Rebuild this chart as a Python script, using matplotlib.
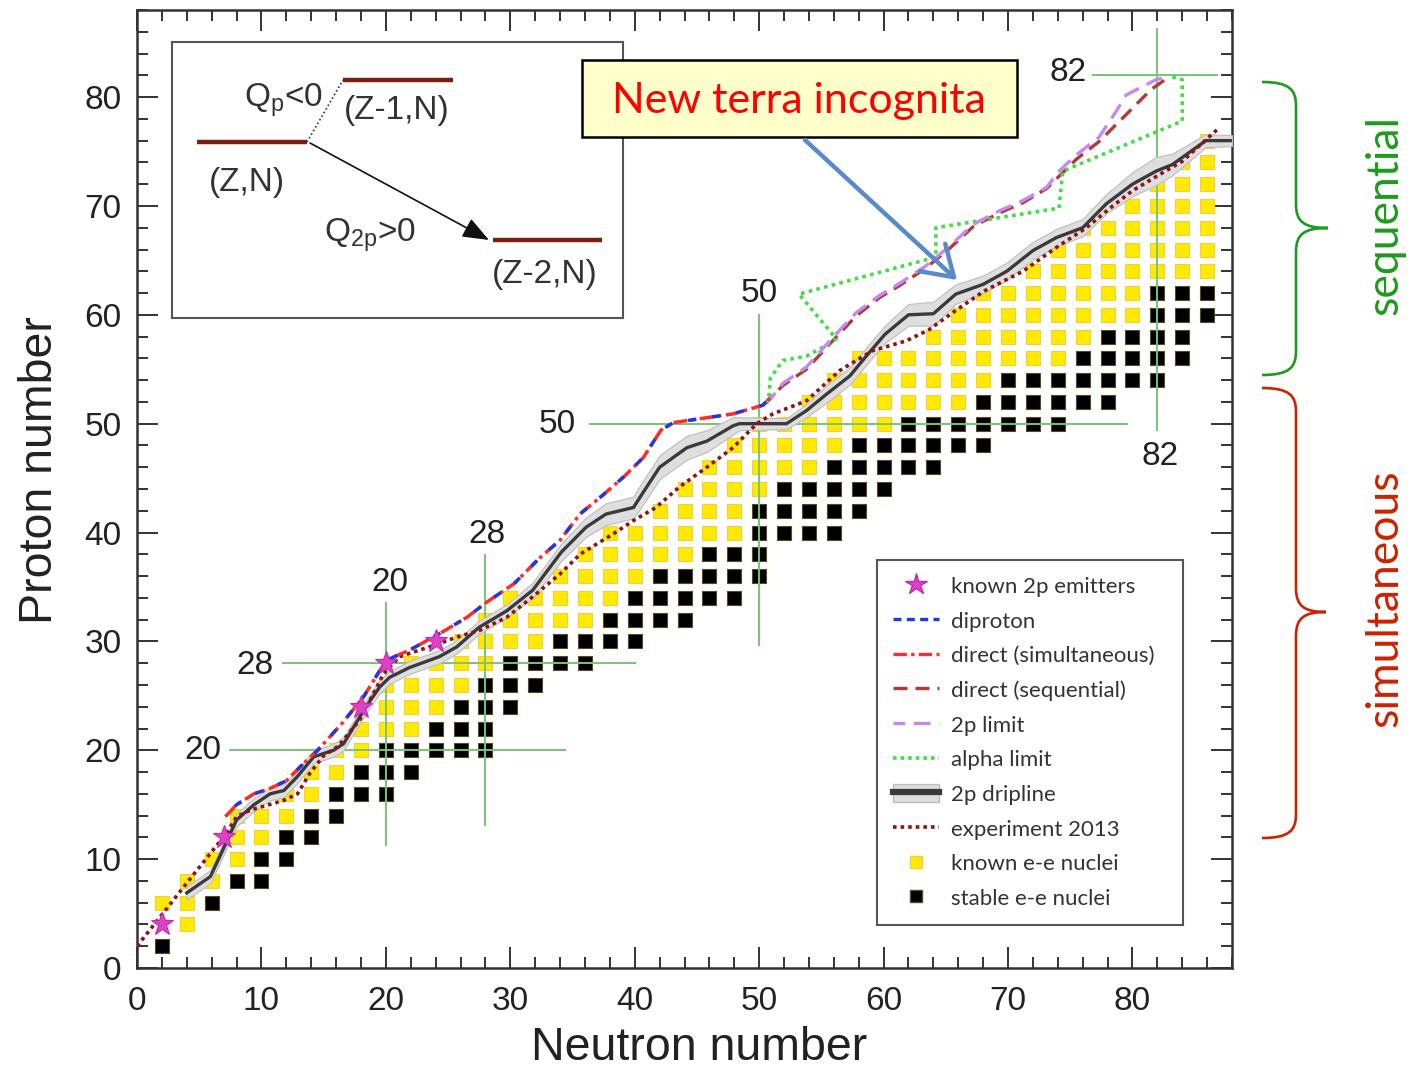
import numpy as np
import matplotlib
matplotlib.use("Agg")
import matplotlib.pyplot as plt
from matplotlib.lines import Line2D
from matplotlib.patches import Patch, Rectangle, FancyArrowPatch, PathPatch
from matplotlib.path import Path
from matplotlib.ticker import MultipleLocator

plt.rcParams['font.family'] = ['Liberation Sans', 'DejaVu Sans']
plt.rcParams['mathtext.fontset'] = 'custom'
plt.rcParams['mathtext.rm'] = 'Liberation Sans'
plt.rcParams['mathtext.it'] = 'Liberation Sans:italic'

# ---------------------------------------------------------------- data
# even-even nuclei, one row per even proton number Z
row_Z = [2, 4, 6, 8, 10, 12, 14, 16, 18, 20, 22, 24, 26, 28, 30, 32, 34, 36, 38,
         40, 42, 44, 46, 48, 50, 52, 54, 56, 58, 60, 62, 64, 66, 68, 70, 72, 74, 76]
known_N_from = [None, 4, 2, 4, 6, 8, 8, 12, 14, 16, 18, 20, 20, 22, 26, 28, 30, 34, 36,
                38, 42, 44, 46, 48, 50, 54, 56, 58, 64, 66, 68, 72, 74, 76, 80, 82, 84, 86]
known_N_to = [None, 4, 4, 6, 8, 10, 12, 14, 16, 18, 22, 24, 26, 28, 32, 36, 38, 40, 44,
              48, 48, 50, 54, 56, 60, 66, 68, 74, 76, 80, 80, 86, 86, 86, 86, 86, 86, 86]
stable_N_from = [2, None, 6, 8, 10, 12, 14, 16, 18, 20, 24, 26, 28, 30, 34, 38, 40, 42, 46,
                 50, 50, 52, 56, 58, 62, 68, 70, 76, 78, 82, 82, None, None, None, None, None, None, None]
stable_N_to = [2, None, 6, 10, 12, 14, 16, 20, 22, 28, 28, 30, 32, 36, 40, 44, 48, 50, 50,
               56, 58, 60, 64, 68, 74, 78, 82, 84, 84, 86, 86, None, None, None, None, None, None, None]

# known two-proton emitters
emit_N = [2, 7, 18, 20, 24]
emit_Z = [4, 12, 24, 28, 30]

# diproton / direct (simultaneous) model limit
sim_N = [7.1, 8.0, 9.4, 10.7, 12.0, 13.4, 14.6, 16.5, 18.2, 19.5, 20.1, 21.9, 24.3, 26.5,
         28.1, 30.3, 32.3, 34.0, 35.6, 37.5, 39.1, 40.7, 42.1, 43.1, 44.9, 47.9, 50.3, 51.1]
sim_Z = [13.9, 15.0, 16.0, 16.5, 17.2, 18.8, 20.1, 22.5, 24.9, 27.3, 28.3, 29.2, 30.7, 32.2,
         33.6, 35.3, 37.6, 39.3, 41.7, 43.5, 45.1, 46.9, 49.4, 50.1, 50.4, 50.9, 51.7, 52.6]

# direct (sequential)
seq_N = [50.3, 51.9, 53.8, 55.9, 57.8, 59.7, 61.3, 63.4, 65.3, 67.2, 69.2, 71.2, 73.1,
         75.5, 77.3, 79.5, 81.5, 83.0]
seq_Z = [51.7, 53.5, 55.0, 57.6, 59.9, 61.6, 62.7, 64.3, 66.1, 68.1, 69.3, 70.3, 71.6,
         74.3, 75.9, 78.4, 80.7, 81.9]

# 2p limit
lim_N = [50.8, 51.9, 53.8, 55.9, 57.8, 59.7, 61.3, 63.4, 65.3, 67.2, 69.2, 71.2, 73.1,
         74.1, 75.5, 77.3, 78.7, 79.5, 81.9, 83.0]
lim_Z = [52.1, 53.7, 55.2, 57.9, 60.2, 61.8, 62.9, 64.5, 66.3, 68.3, 69.5, 70.5, 71.7,
         73.2, 74.7, 76.3, 78.7, 80.2, 81.6, 81.9]

# alpha limit
alpha_N = [50.6, 50.8, 50.9, 51.9, 53.8, 55.4, 56.2, 53.2, 64.2, 64.2, 74.1, 74.4, 84.0, 84.0, 83.0]
alpha_Z = [51.8, 52.7, 54.2, 55.8, 56.2, 57.2, 57.8, 61.9, 65.3, 68.0, 69.8, 73.2, 77.8, 81.6, 81.9]

# 2p dripline with its uncertainty band
drip_N = [4, 5.9, 7.0, 8.0, 9.4, 10.7, 11.8, 12.9, 14.2, 15.8, 16.6, 18.4, 19.5, 20.3, 21.9,
          24.3, 25.7, 27.5, 29.7, 31.8, 34.1, 36.1, 37.7, 38.8, 39.9, 40.4, 42.0, 44.2, 45.8,
          47.9, 48.4, 52.2, 53.8, 55.4, 57.3, 58.6, 60.1, 62.0, 64.0, 65.8, 68.0, 69.9, 72.0,
          73.9, 76.0, 77.9, 80.0, 81.9, 83.2, 85.9, 88.0]
drip_Z = [6.9, 8.4, 11.1, 13.6, 15.0, 16.0, 16.3, 17.6, 19.4, 20.0, 20.6, 24.0, 25.8, 26.7, 27.6,
          28.6, 29.5, 31.3, 32.8, 34.7, 38.2, 40.5, 41.7, 42.0, 42.3, 43.2, 46.0, 47.8, 48.4,
          49.8, 50.0, 50.0, 51.2, 52.7, 54.4, 56.2, 58.2, 60.0, 60.1, 61.9, 62.8, 64.0, 65.9,
          67.1, 68.0, 70.2, 72.0, 73.2, 73.8, 76.0, 76.0]
drip_err = [0.6, 0.6, 0.6, 0.6, 0.6, 0.6, 0.6, 0.6, 0.6, 0.6, 0.6, 0.6, 0.6, 0.6, 0.6,
            0.6, 0.6, 0.6, 0.6, 0.7, 0.8, 0.9, 1.0, 1.0, 1.0, 1.1, 1.1, 1.1, 1.0,
            0.8, 0.6, 0.5, 0.6, 0.8, 0.8, 0.8, 0.8, 1.0, 1.1, 0.9, 0.8, 0.8, 0.8,
            0.8, 0.8, 0.9, 1.1, 1.3, 1.0, 0.6, 0.5]

# experimental limit (2013)
exp_N = [0, 2, 4, 7.2, 8.0, 9.1, 11.8, 12.9, 13.9, 15.0, 16.2, 17.9, 19.0, 19.8, 21.1, 22.7,
         24.3, 25.7, 27.5, 29.7, 31.8, 34.0, 35.6, 38.3, 39.9, 41.7, 43.6, 45.8, 47.9, 49.8,
         51.1, 53.8, 56.5, 59.1, 61.8, 63.6, 65.8, 68.1, 71.2, 73.9, 76.3, 78.2, 80.0, 82.2,
         84.0, 86.5, 87.0]
exp_Z = [2.0, 4.9, 7.8, 12.4, 13.9, 14.5, 15.4, 16.0, 17.9, 19.5, 20.4, 22.8, 25.2, 27.0, 28.6,
         29.2, 29.8, 30.4, 31.0, 32.2, 34.1, 36.2, 38.0, 39.9, 41.1, 42.3, 44.2, 46.0, 47.8,
         50.0, 50.9, 52.1, 54.9, 56.7, 57.6, 58.6, 60.4, 62.2, 64.0, 66.2, 68.0, 69.8, 71.4,
         72.9, 74.1, 76.7, 77.2]

# magic numbers: horizontal (Z) and vertical (N) guide lines
magic = [20, 28, 50, 82]
magic_hline_N = [(7.5, 34.4), (11.7, 40.0), (36.4, 79.6), (76.8, 86.8)]
magic_vline_Z = [(11.3, 33.5), (13.1, 37.9), (29.7, 60.0), (49.4, 86.3)]

x_ticks = [0, 10, 20, 30, 40, 50, 60, 70, 80]
y_ticks = [0, 10, 20, 30, 40, 50, 60, 70, 80]

legend_labels = ['known 2p emitters', 'diproton', 'direct (simultaneous)',
                 'direct (sequential)', '2p limit', 'alpha limit', '2p dripline',
                 'experiment 2013', 'known e-e nuclei', 'stable e-e nuclei']

# ---------------------------------------------------------------- figure
W, H = 1416, 1068
fig = plt.figure(figsize=(W / 100, H / 100), dpi=100)
ax = fig.add_axes([137 / W, 1 - 968 / H, 1095 / W, 958 / H])


def expand(rows, first, last):
    nn, zz = [], []
    for z, a, b in zip(rows, first, last):
        if a is None:
            continue
        for n in range(a, b + 1, 2):
            nn.append(n)
            zz.append(z)
    return nn, zz


kN, kZ = expand(row_Z, known_N_from, known_N_to)
sN, sZ = expand(row_Z, stable_N_from, stable_N_to)

YEL = '#FFEA00'
ax.scatter(kN, kZ, marker='s', s=10.2 ** 2, c=YEL, edgecolors='#F2CF40',
           linewidths=0.8, zorder=2)
ax.scatter(sN, sZ, marker='s', s=9.6 ** 2, c='black', edgecolors='#5A4A20',
           linewidths=0.8, zorder=2)

# magic-number guides
GRN = '#78C478'
for m, (n0, n1), (z0, z1) in zip(magic, magic_hline_N, magic_vline_Z):
    ax.plot([n0, n1], [m, m], color=GRN, lw=1.4, zorder=3)
    ax.plot([m, m], [z0, z1], color=GRN, lw=1.4, zorder=3)

lab_kw = dict(fontsize=24, color='#222222', ha='center', va='center', zorder=3)
# labels for horizontal lines (left of line)
ax.text(5.3, 20.0, '20', **lab_kw)
ax.text(9.5, 27.8, '28', **lab_kw)
ax.text(33.8, 49.9, '50', **lab_kw)
ax.text(74.8, 82.3, '82', **lab_kw)
# labels for vertical lines
ax.text(20.3, 35.4, '20', **lab_kw)
ax.text(28.1, 39.8, '28', **lab_kw)
ax.text(50.0, 62.0, '50', **lab_kw)
ax.text(82.2, 47.0, '82', **lab_kw)

# dripline band and line
dN = np.array(drip_N)
dZ = np.array(drip_Z)
dE = np.array(drip_err)
ax.fill_between(dN, dZ - dE, dZ + dE, color='#DEDEDE', edgecolor='#BDBDBD',
                lw=0.8, zorder=4)
ax.plot(dN, dZ, color='#3A3A3A', lw=2.4, zorder=5)

# experimental limit
ax.plot(exp_N, exp_Z, color='#8B1414', lw=2.6, ls=(0, (1.0, 1.1)), zorder=6)

# theoretical limits
ax.plot(seq_N, seq_Z, color='#B03A3A', lw=2.4, ls=(0, (4.2, 2.4)), zorder=6)
ax.plot(lim_N, lim_Z, color='#C38BF0', lw=2.4, ls=(2, (5.0, 2.6)), zorder=6.5)
ax.plot(alpha_N, alpha_Z, color='#44DD44', lw=2.6, ls=(0, (1.0, 1.2)), zorder=6)
ax.plot(sim_N, sim_Z, color='#FF2A2A', lw=2.5, ls=(0, (4.0, 1.3, 1.0, 1.3)), zorder=7)
ax.plot(sim_N, sim_Z, color='#2038E0', lw=2.5, ls=(3.0, (2.4, 4.6)), zorder=7.5)

# known 2p emitters
ax.plot(emit_N, emit_Z, ls='none', marker='*', ms=17, mfc='#E040C8', mec='#C02AAE',
        mew=0.8, zorder=9)

# axes cosmetics
ax.set_xlim(0, 88)
ax.set_ylim(0, 88)
ax.set_xticks(x_ticks)
ax.set_yticks(y_ticks)
ax.xaxis.set_minor_locator(MultipleLocator(2))
ax.yaxis.set_minor_locator(MultipleLocator(2))
ax.tick_params(which='both', direction='in', top=True, right=True, width=1.4,
               color='#333333', labelcolor='#222222', labelsize=24)
ax.tick_params(which='major', length=15)
ax.tick_params(which='minor', length=8)
ax.tick_params(axis='x', pad=13)
ax.tick_params(axis='y', pad=11)
for sp in ax.spines.values():
    sp.set_linewidth(1.8)
    sp.set_color('#333333')

ax.set_xlabel('Neutron number', fontsize=33.5, color='#222222')
ax.set_ylabel('Proton number', fontsize=33.5, color='#222222')
ax.xaxis.set_label_coords(0.513, -0.083)
ax.xaxis.label.set_va('center')
ax.yaxis.set_label_coords(-0.089, 0.52)
ax.yaxis.label.set_va('center')

# legend
handles = [
    Line2D([], [], ls='none', marker='*', ms=16, mfc='#E040C8', mec='#C02AAE'),
    Line2D([], [], color='#2038E0', lw=2.4, ls=(0, (2.4, 1.6))),
    Line2D([], [], color='#FF2A2A', lw=2.4, ls=(0, (4.0, 1.3, 1.0, 1.3))),
    Line2D([], [], color='#B03A3A', lw=2.4, ls=(0, (4.2, 2.4))),
    Line2D([], [], color='#C38BF0', lw=2.4, ls=(1.5, (5.0, 2.6))),
    Line2D([], [], color='#44DD44', lw=2.6, ls=(0, (1.0, 1.1))),
    (Patch(facecolor='#DEDEDE', edgecolor='#BDBDBD'), Line2D([], [], color='#3A3A3A', lw=4.5)),
    Line2D([], [], color='#8B1414', lw=2.6, ls=(0, (1.0, 1.1))),
    Line2D([], [], ls='none', marker='s', ms=9, mfc=YEL, mec='#F2CF40'),
    Line2D([], [], ls='none', marker='s', ms=8.5, mfc='black', mec='#5A4A20'),
]
leg = ax.legend(handles, legend_labels, loc='lower left',
                bbox_to_anchor=(0.676, 0.045, 0.279, 0.38), mode='expand',
                borderaxespad=0,
                prop={'family': 'Lato', 'size': 16}, handlelength=2.05,
                handleheight=0.9, handletextpad=0.55, labelspacing=0.62,
                borderpad=0.72, fancybox=False, framealpha=1, edgecolor='#555555')
leg.get_frame().set_linewidth(1.5)
leg.set_zorder(20)
for t in leg.get_texts():
    t.set_color('#333333')

# ---------------------------------------------------------------- overlay (pixel coordinates)
ov = fig.add_axes([0, 0, 1, 1], zorder=10)
ov.set_xlim(0, W)
ov.set_ylim(H, 0)
ov.axis('off')
ov.patch.set_alpha(0)

# level-scheme inset
ov.add_patch(Rectangle((172, 42), 451, 276, facecolor='white', edgecolor='#555555', lw=1.5))
LEV = '#7A1E0E'
ov.plot([197, 307], [142, 142], color=LEV, lw=3.2, solid_capstyle='butt')
ov.plot([343, 453], [80, 80], color=LEV, lw=3.2, solid_capstyle='butt')
ov.plot([493, 602], [240, 240], color=LEV, lw=3.2, solid_capstyle='butt')
ov.plot([307, 343], [142, 80], color='#333333', lw=1.2, ls=(0, (1, 1.5)))
ov.add_patch(FancyArrowPatch((310, 143), (489, 240), arrowstyle='-|>,head_length=0.9,head_width=0.35',
                             mutation_scale=18, color='#111111', lw=1.2, shrinkA=0, shrinkB=0))
ik = dict(fontsize=24, color='#333333', ha='center', va='center')
ov.text(283, 100, r'Q$_\mathregular{p}$<0', **ik)
ov.text(397, 110, '(Z-1,N)', **ik)
ov.text(247, 182, '(Z,N)', **ik)
ov.text(370, 235, r'Q$_\mathregular{2p}$>0', **ik)
ov.text(545, 275, '(Z-2,N)', **ik)

# callout
ov.add_patch(Rectangle((582, 60), 435, 77, facecolor='#FFFFCC', edgecolor='black', lw=1.8))
ov.text(799, 101, 'New terra incognita', fontsize=31, color='#FF0000', family='Lato',
        ha='center', va='center')
ov.add_patch(FancyArrowPatch((805, 140), (957, 280), arrowstyle='->,head_length=0.7,head_width=0.45',
                             mutation_scale=30, color='#5A8AC8', lw=3.2, shrinkA=0, shrinkB=0))


def brace(x_end, x_mid, x_tip, y0, ym, y1, color):
    r = 24
    verts = [(x_end, y0),
             (x_mid - 6, y0), (x_mid, y0 + 8), (x_mid, y0 + r),
             (x_mid, ym - r),
             (x_mid, ym - 6), (x_mid + 8, ym), (x_tip, ym),
             (x_mid + 8, ym), (x_mid, ym + 6), (x_mid, ym + r),
             (x_mid, y1 - r),
             (x_mid, y1 - 8), (x_mid - 6, y1), (x_end, y1)]
    codes = [Path.MOVETO, Path.CURVE4, Path.CURVE4, Path.CURVE4, Path.LINETO,
             Path.CURVE4, Path.CURVE4, Path.CURVE4, Path.CURVE4, Path.CURVE4, Path.CURVE4,
             Path.LINETO, Path.CURVE4, Path.CURVE4, Path.CURVE4]
    ov.add_patch(PathPatch(Path(verts, codes), facecolor='none', edgecolor=color, lw=1.9))


SEQ_C = '#1E9A1E'
SIM_C = '#CC2200'
brace(1262, 1296, 1328, 82, 228, 375, SEQ_C)
brace(1262, 1296, 1326, 388, 612, 838, SIM_C)
ov.text(1385, 215, 'sequential', rotation=90, fontsize=32, color=SEQ_C, family='Lato',
        ha='center', va='center')
ov.text(1385, 598, 'simultaneous', rotation=90, fontsize=32, color=SIM_C, family='Lato',
        ha='center', va='center')

fig.savefig('out.png', dpi=100)
